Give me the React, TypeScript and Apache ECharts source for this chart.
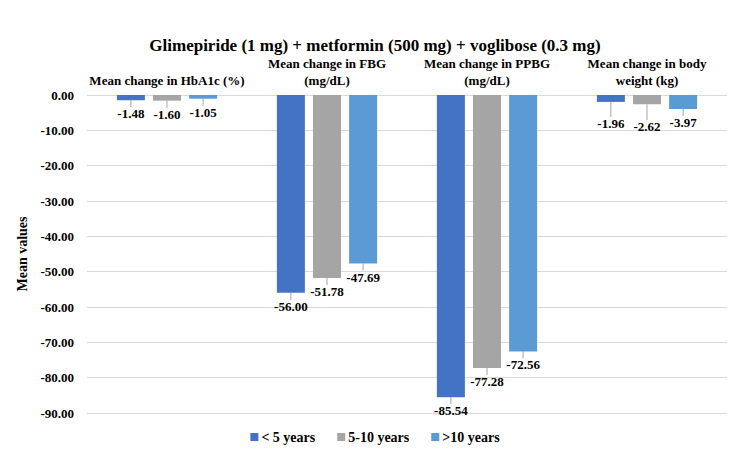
import React, { useEffect, useRef } from "react";
import * as echarts from "echarts";

const categories = [
  "Mean change in HbA1c (%)",
  "Mean change in FBG\n(mg/dL)",
  "Mean change in PPBG\n(mg/dL)",
  "Mean change in body\nweight (kg)",
];
const seriesNames = ["< 5 years", "5-10 years", ">10 years"];
const under5 = [-1.48, -56.0, -85.54, -1.96];
const from5to10 = [-1.6, -51.78, -77.28, -2.62];
const over10 = [-1.05, -47.69, -72.56, -3.97];
const colors = ["#4472C4", "#A5A5A5", "#5B9BD5"];
const FONT = "Liberation Serif";

export default function App() {
  const ref = useRef<HTMLDivElement>(null);
  useEffect(() => {
    if (!ref.current) return;
    const chart = echarts.init(ref.current, undefined, { renderer: "svg" });
    const values = [under5, from5to10, over10];
    const shifted: Record<string, number> = { "0-3": 8, "1-3": 9 };
    chart.setOption({
      animation: false,
      textStyle: { fontFamily: FONT },
      title: {
        text: "Glimepiride (1 mg) + metformin (500 mg) + voglibose (0.3 mg)",
        left: "center",
        top: 32,
        textStyle: { fontFamily: FONT, fontSize: 17, fontWeight: "bold", color: "#000" },
      },
      grid: { left: 87, right: 23, top: 95, bottom: 49 },
      legend: {
        bottom: 13,
        left: "center",
        itemWidth: 8,
        itemHeight: 8,
        itemGap: 22,
        icon: "rect",
        textStyle: { fontFamily: FONT, fontSize: 14, fontWeight: "bold", color: "#000", padding: [0, 0, 0, -2] },
        data: seriesNames,
      },
      xAxis: {
        type: "category",
        position: "top",
        data: categories,
        axisLine: { show: false },
        axisTick: { show: false },
        axisLabel: {
          interval: 0,
          margin: 6,
          fontFamily: FONT,
          fontSize: 13,
          fontWeight: "bold",
          color: "#000",
          lineHeight: 17,
        },
      },
      yAxis: {
        type: "value",
        min: -90,
        max: 0,
        interval: 10,
        name: "Mean values",
        nameLocation: "middle",
        nameGap: 58,
        nameTextStyle: { fontFamily: FONT, fontSize: 14, fontWeight: "bold", color: "#000" },
        axisLabel: {
          formatter: (v: number) => v.toFixed(2),
          fontFamily: FONT,
          fontSize: 13,
          fontWeight: "bold",
          color: "#000",
          margin: 13,
        },
        splitLine: { lineStyle: { color: "#D9D9D9" } },
        axisLine: { show: false },
        axisTick: { show: false },
      },
      series: seriesNames.map((name, i) => ({
        name,
        type: "bar",
        data: values[i],
        barWidth: 28,
        barGap: "29%",
        itemStyle: { color: colors[i] },
        label: {
          show: true,
          position: "outside",
          distance: 7,
          formatter: (p: any) => Number(p.value).toFixed(2),
          fontFamily: FONT,
          fontSize: 13,
          fontWeight: "bold",
          color: "#000",
        },
        labelLine: { show: true, lineStyle: { color: "#A6A6A6", width: 1 } },
        labelLayout: (p: any) => {
          const key = `${p.seriesIndex}-${p.dataIndex}`;
          if (shifted[key]) return { dy: shifted[key] };
          return {};
        },
      })),
    });
    return () => chart.dispose();
  }, []);
  return (
    <div
      ref={ref}
      style={{ position: "fixed", left: 0, top: 0, width: 750, height: 462, background: "#fff" }}
    />
  );
}
